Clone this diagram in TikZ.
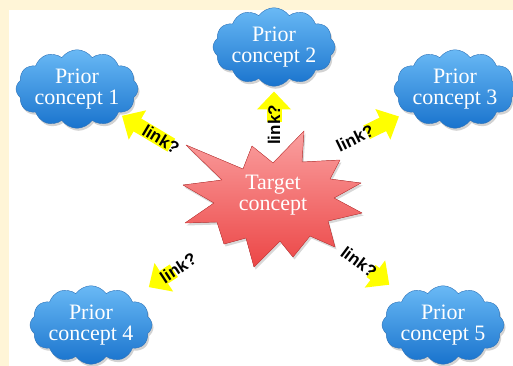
\documentclass[tikz,border=0pt]{standalone}
\usepackage{fontspec}
\setmainfont{Liberation Serif}
\setsansfont{Liberation Sans}
\usetikzlibrary{shapes.symbols, arrows.meta, shadows}
\definecolor{cream}{RGB}{255,245,215}
\definecolor{cloudtop}{RGB}{105,185,245}
\definecolor{cloudbot}{RGB}{25,115,205}
\definecolor{cloudedge}{RGB}{45,115,185}
\definecolor{startop}{RGB}{250,160,160}
\definecolor{starbot}{RGB}{236,70,70}
\definecolor{staredge}{RGB}{210,65,65}
\definecolor{linkyellow}{RGB}{255,255,0}
\tikzset{
	prior/.style={cloud, cloud puffs=12, cloud puff arc=110, aspect=1.75,
		minimum width=122pt, minimum height=70pt, inner sep=-2pt,
		top color=cloudtop, bottom color=cloudbot, draw=cloudedge, thin,
		text=white, align=center, font=\fontsize{22}{21}\selectfont,
		drop shadow={opacity=0.35, shadow xshift=1.5pt, shadow yshift=-2.5pt}},
	linkarrow/.style={draw=linkyellow, line width=15pt, -{Triangle[length=18pt, width=33pt]}},
	linklabel/.style={sloped, text=black, inner sep=0pt,
		font=\sffamily\bfseries\fontsize{17}{17}\selectfont}
}
\begin{document}
\begin{tikzpicture}[x=1pt, y=-1pt, line join=round]
	\useasboundingbox (0,0) rectangle (513,366);
	\fill[cream] (0,0) rectangle (513,366);
	\fill[white] (9,10) rectangle (513,366);
	% the burst round the target concept
	\filldraw[top color=startop, bottom color=starbot, draw=staredge, thin,
		drop shadow={opacity=0.3, shadow xshift=1.5pt, shadow yshift=-2.5pt}]
		(186,145) -- (243,169) -- (252,146) -- (273,163) -- (304,131) -- (302,162)
		-- (340,160) -- (330,179) -- (361,183) -- (334,198) -- (362,213) -- (328,221)
		-- (335,247) -- (310,236) -- (293,257) -- (280,241) -- (254,267) -- (246,238)
		-- (224,244) -- (217,222) -- (185,223) -- (214,203) -- (183,185) -- (222,180) -- cycle;
	\node[text=white, align=center, font=\fontsize{22}{21}\selectfont] (target) at (273,195) {Target\\concept};
	% prior concepts
	\node[prior] (p1) at (77,89) {Prior\\concept 1};
	\node[prior] (p2) at (274,47) {Prior\\concept 2};
	\node[prior] (p3) at (455,89) {Prior\\concept 3};
	\node[prior] (p4) at (91,325) {Prior\\concept 4};
	\node[prior] (p5) at (443,325) {Prior\\concept 5};
	% links
	\coordinate (s1) at (161,139);
	\coordinate (s2) at (274,125);
	\coordinate (s3) at (355,138);
	\coordinate (s4) at (178,268);
	\coordinate (s5) at (359,262);
	\draw[linkarrow, shorten <=-12pt, shorten >=4.5pt] (s1) -- node[linklabel, pos=0] {link?} (p1);
	\draw[linkarrow, shorten <=3pt, shorten >=5pt] (s2) -- node[linklabel, pos=0] {link?} (p2);
	\draw[linkarrow, shorten <=13pt, shorten >=10pt] (s3) -- node[linklabel, pos=0] {link?} (p3);
	\draw[linkarrow, shorten <=5pt, shorten >=21pt] (s4) -- node[linklabel, pos=0] {link?} (p4);
	\draw[linkarrow, shorten <=15pt, shorten >=19pt] (s5) -- node[linklabel, pos=0] {link?} (p5);
\end{tikzpicture}
\end{document}
